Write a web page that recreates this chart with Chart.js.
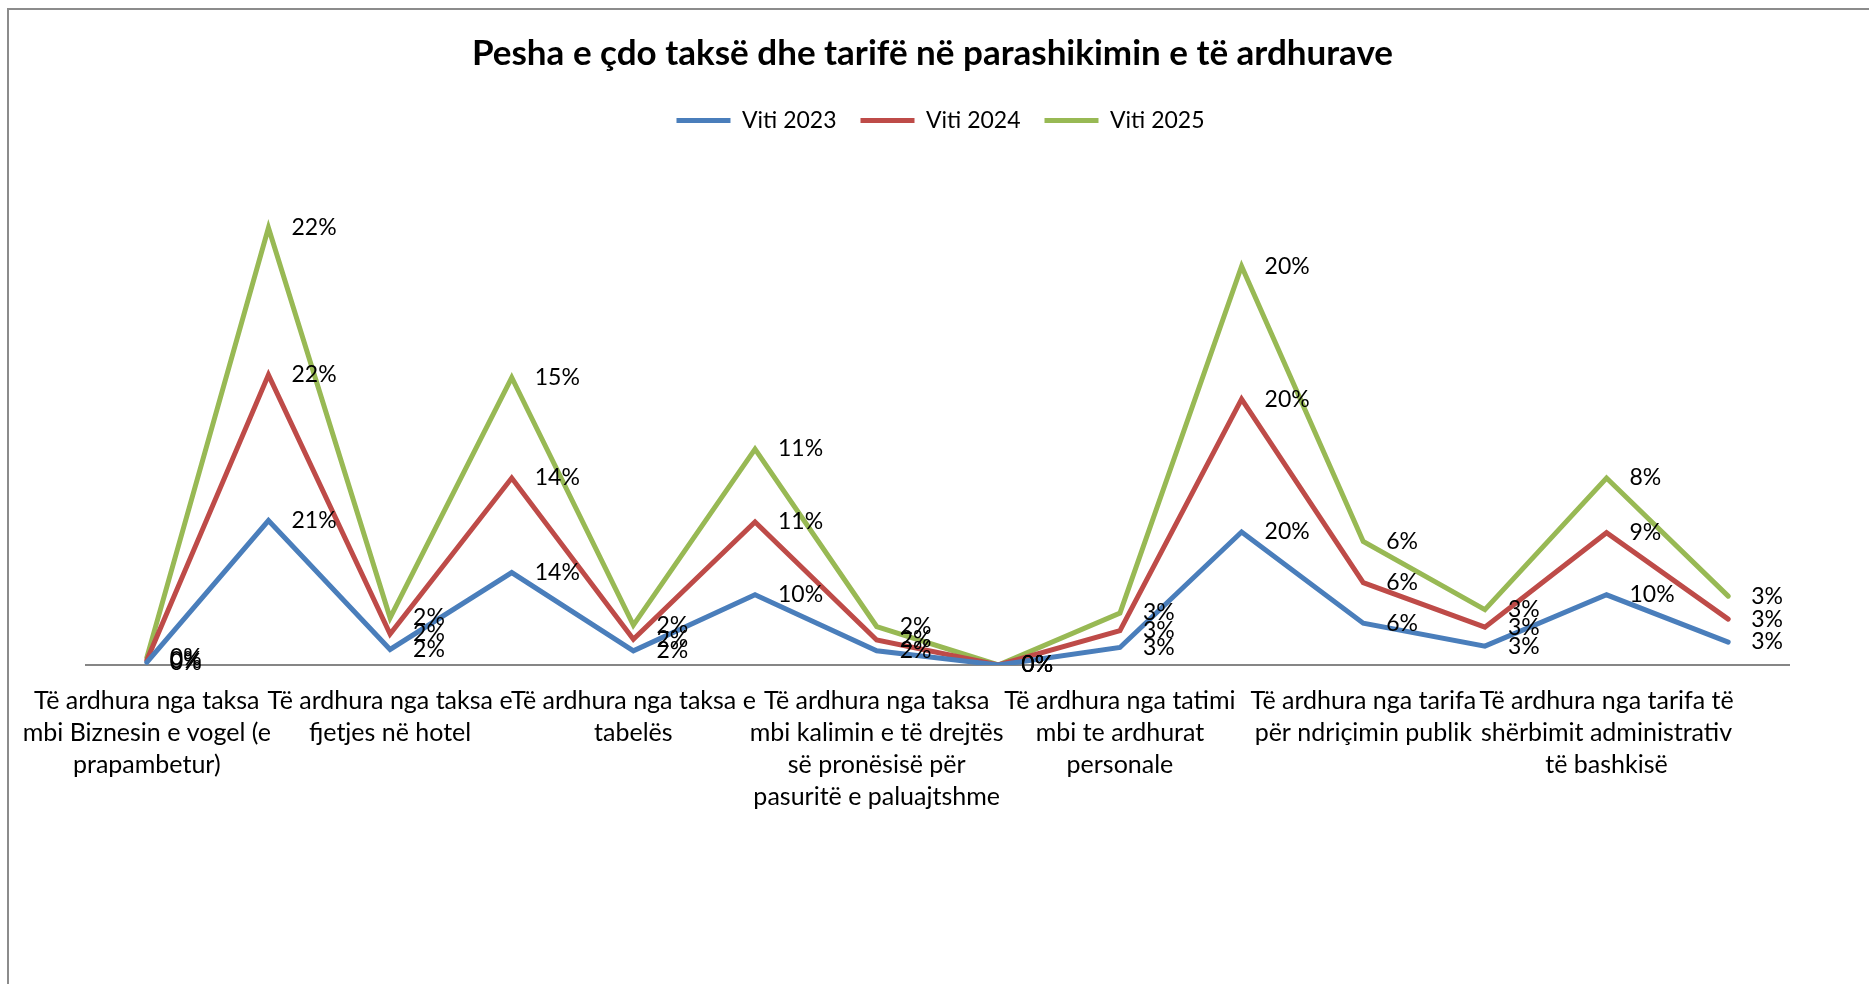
<!DOCTYPE html>
<html>
<head>
<meta charset="utf-8">
<title>Pesha e çdo taksë dhe tarifë</title>
<script src="https://cdn.jsdelivr.net/npm/chart.js@4.4.1/dist/chart.umd.min.js"></script>
<style>
  html, body { margin: 0; padding: 0; background: #fff; }
  #wrap { position: relative; width: 1869px; height: 984px; overflow: hidden; }
  #frame {
    position: absolute; left: 7px; top: 8px; width: 3000px; height: 3000px;
    border-left: 2px solid #8c8c8c; border-top: 2px solid #8c8c8c;
  }
  #chart { position: absolute; left: 0; top: 0; }
</style>
</head>
<body>
<div id="wrap">
  <div id="frame"></div>
  <canvas id="chart" width="1869" height="984"></canvas>
</div>
<script>
// kategorite (vetem ato me cift indeks lexohen ne figure, te tjerat nuk shfaqen)
const categories = [
  ['Të ardhura nga taksa', 'mbi Biznesin e vogel (e', 'prapambetur)'],
  '',
  ['Të ardhura nga taksa e', 'fjetjes në hotel'],
  '',
  ['Të ardhura nga taksa e', 'tabelës'],
  '',
  ['Të ardhura nga taksa', 'mbi kalimin e të drejtës', 'së pronësisë për', 'pasuritë e paluajtshme'],
  '',
  ['Të ardhura nga tatimi', 'mbi te ardhurat', 'personale'],
  '',
  ['Të ardhura nga tarifa', 'për ndriçimin publik'],
  '',
  ['Të ardhura nga tarifa të', 'shërbimit administrativ', 'të bashkisë'],
  ''
];

const viti2023 = [0.004, 0.214, 0.023, 0.137, 0.021, 0.104, 0.021, 0.000, 0.026, 0.197, 0.062, 0.028, 0.104, 0.034];
const viti2024 = [0.003, 0.216, 0.023, 0.140, 0.017, 0.108, 0.016, 0.000, 0.025, 0.197, 0.060, 0.028, 0.092, 0.034];
const viti2025 = [0.004, 0.218, 0.024, 0.149, 0.021, 0.108, 0.020, 0.000, 0.026, 0.197, 0.061, 0.026, 0.081, 0.034];

const seriesNames = ['Viti 2023', 'Viti 2024', 'Viti 2025'];

const colors = {
  blue: '#4a7ebb',
  red: '#be4b48',
  green: '#98b954',
  axis: '#868686'
};

const FONT = 'Lato, "Open Sans", sans-serif';

// etiketat e vlerave djathtas pikes (si ne Excel)
const valueLabels = {
  id: 'valueLabels',
  afterDatasetsDraw(chart) {
    const ctx = chart.ctx;
    ctx.save();
    ctx.font = '23px ' + FONT;
    ctx.fillStyle = '#000';
    ctx.textAlign = 'left';
    ctx.textBaseline = 'middle';
    chart.data.datasets.forEach((ds, i) => {
      const meta = chart.getDatasetMeta(i);
      meta.data.forEach((pt, j) => {
        ctx.fillText(Math.round(ds.data[j] * 100) + '%', pt.x + 23, pt.y);
      });
    });
    ctx.restore();
  }
};

// legjenda pak djathtas se qendra
const legendShift = {
  id: 'legendShift',
  afterLayout(chart) {
    chart.legend.left += 8;
    chart.legend.right += 8;
  }
};

function makeSet(label, data, color) {
  return {
    label: label,
    data: data,
    borderColor: color,
    backgroundColor: color,
    borderWidth: 5,
    borderCapStyle: 'round',
    borderJoinStyle: 'miter',
    pointRadius: 0,
    pointHoverRadius: 0,
    tension: 0,
    fill: false
  };
}

new Chart(document.getElementById('chart'), {
  type: 'line',
  data: {
    labels: categories,
    datasets: [
      makeSet(seriesNames[0], viti2023, colors.blue),
      makeSet(seriesNames[1], viti2024, colors.red),
      makeSet(seriesNames[2], viti2025, colors.green)
    ]
  },
  options: {
    responsive: false,
    animation: false,
    layout: { padding: { left: 76, right: 80, bottom: 151 } },
    plugins: {
      title: {
        display: true,
        text: 'Pesha e çdo taksë dhe tarifë në parashikimin e të ardhurave',
        color: '#000',
        font: { family: FONT, size: 35, weight: 'bold' },
        padding: { top: 33, bottom: 10 }
      },
      legend: {
        display: true,
        position: 'top',
        labels: {
          color: '#000',
          font: { family: FONT, size: 23 },
          usePointStyle: true,
          pointStyle: 'line',
          pointStyleWidth: 54,
          boxHeight: 23,
          padding: 24
        }
      },
      tooltip: { enabled: false }
    },
    scales: {
      x: {
        offset: true,
        grid: { display: false, drawTicks: false },
        border: { display: true, color: colors.axis, width: 2 },
        ticks: {
          autoSkip: false,
          maxRotation: 0,
          minRotation: 0,
          padding: 20,
          color: '#000',
          font: { family: FONT, size: 25, lineHeight: '32px' }
        }
      },
      y: {
        display: false,
        stacked: true,
        min: 0,
        max: 0.775
      }
    }
  },
  plugins: [valueLabels, legendShift]
});
</script>
</body>
</html>
